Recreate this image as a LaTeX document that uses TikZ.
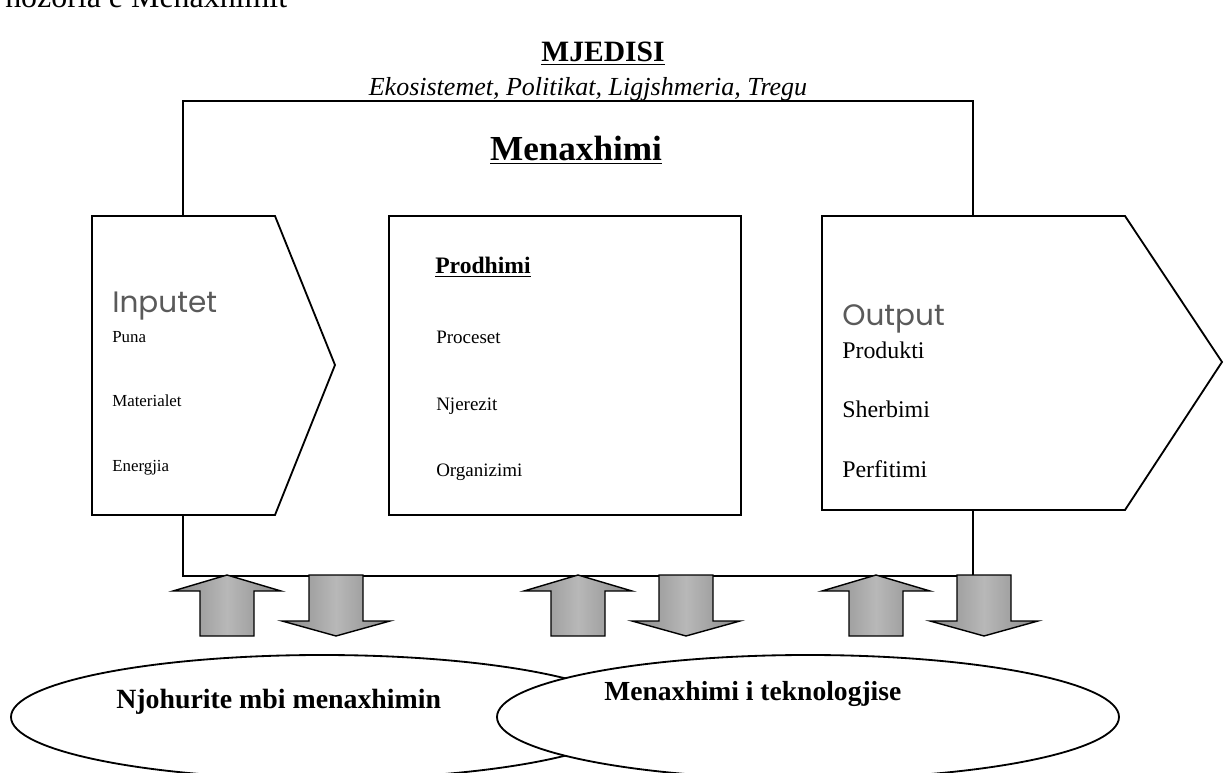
\documentclass[tikz,border=0pt]{standalone}
\usepackage{fontspec}
\setmainfont{Liberation Serif}
\newfontfamily\gothic{Poppins}
\definecolor{headgray}{HTML}{5A5A5A}
\definecolor{arrdark}{HTML}{8A8A8A}
\definecolor{arrlight}{HTML}{B8B8B8}
\tikzset{
  box/.style={draw,line width=1.3pt,fill=white},
  blockarr/.style={draw,line width=1pt,left color=arrdark,right color=arrdark,middle color=arrlight},
  lbl/.style={anchor=base west,inner sep=0pt},
  mid/.style={anchor=base,inner sep=0pt},
}
% block arrows, #1 = x of the arrow axis
\newcommand\uparr[1]{\draw[blockarr] (#1,575) -- ++(54,16) -- ++(-27,0) -- ++(0,45) -- ++(-54,0) -- ++(0,-45) -- ++(-27,0) -- cycle;}
\newcommand\dnarr[1]{\draw[blockarr] (#1-27,575) -- ++(54,0) -- ++(0,46) -- ++(27,0) -- ++(-54,15) -- ++(-54,-15) -- ++(27,0) -- cycle;}
\begin{document}
\begin{tikzpicture}[x=0.025cm,y=-0.025cm]
  \useasboundingbox (0,0) rectangle (1224,773);
  \node (title) at (5,8) [lbl,font=\fontsize{22.7}{26}\selectfont] {hozoria e Menaxhimit};
  \node (env) at (603,62) [mid,font=\bfseries\fontsize{21}{24}\selectfont] {\underline{MJEDISI}};
  \node (envsub) at (588,96) [mid,font=\itshape\fontsize{18.5}{21}\selectfont] {Ekosistemet, Politikat, Ligjshmeria, Tregu};
  % Menaxhimi frame
  \draw[line width=1.3pt] (183,101) rectangle (973,576);
  \node (mgmt) at (576,161) [mid,font=\bfseries\fontsize{25}{28}\selectfont] {\underline{Menaxhimi}};
  % inputs
  \draw[box] (92,216) -- (275,216) -- (335,365) -- (275,515) -- (92,515) -- cycle;
  \node (in) at (112,313) [lbl,font=\gothic\fontsize{21}{24}\selectfont,text=headgray] {Inputet};
  \node (puna) at (112,343) [lbl,font=\fontsize{12}{14}\selectfont] {Puna};
  \node (mat) at (112,407) [lbl,font=\fontsize{12}{14}\selectfont] {Materialet};
  \node (energ) at (112,472) [lbl,font=\fontsize{12}{14}\selectfont] {Energjia};
  % production
  \draw[box] (389,216) rectangle (741,515);
  \node (prod) at (435,274) [lbl,font=\bfseries\fontsize{16.8}{19}\selectfont] {\underline{Prodhimi}};
  \node (proc) at (436,344) [lbl,font=\fontsize{13.5}{16}\selectfont] {Proceset};
  \node (njer) at (436,411) [lbl,font=\fontsize{13.5}{16}\selectfont] {Njerezit};
  \node (org) at (436,477) [lbl,font=\fontsize{13.5}{16}\selectfont] {Organizimi};
  % outputs
  \draw[box] (822,216) -- (1125,216) -- (1222,362) -- (1125,510) -- (822,510) -- cycle;
  \node (out) at (842,326) [lbl,font=\gothic\fontsize{21}{24}\selectfont,text=headgray] {Output};
  \node (produkt) at (842,359) [lbl,font=\fontsize{17}{19}\selectfont] {Produkti};
  \node (sherb) at (842,418) [lbl,font=\fontsize{17}{19}\selectfont] {Sherbimi};
  \node (perf) at (842,478) [lbl,font=\fontsize{17}{19}\selectfont] {Perfitimi};
  % arrows
  \uparr{227} \dnarr{336}
  \uparr{578} \dnarr{686}
  \uparr{876} \dnarr{984}
  % knowledge
  \draw[box] (322,717) ellipse [x radius=311,y radius=62];
  \draw[box] (808,717) ellipse [x radius=311,y radius=62];
  \node (know) at (116,708) [lbl,font=\bfseries\fontsize{19.8}{22}\selectfont] {Njohurite mbi menaxhimin};
  \node (tech) at (604,700) [lbl,font=\bfseries\fontsize{19.6}{22}\selectfont] {Menaxhimi i teknologjise};
\end{tikzpicture}
\end{document}
